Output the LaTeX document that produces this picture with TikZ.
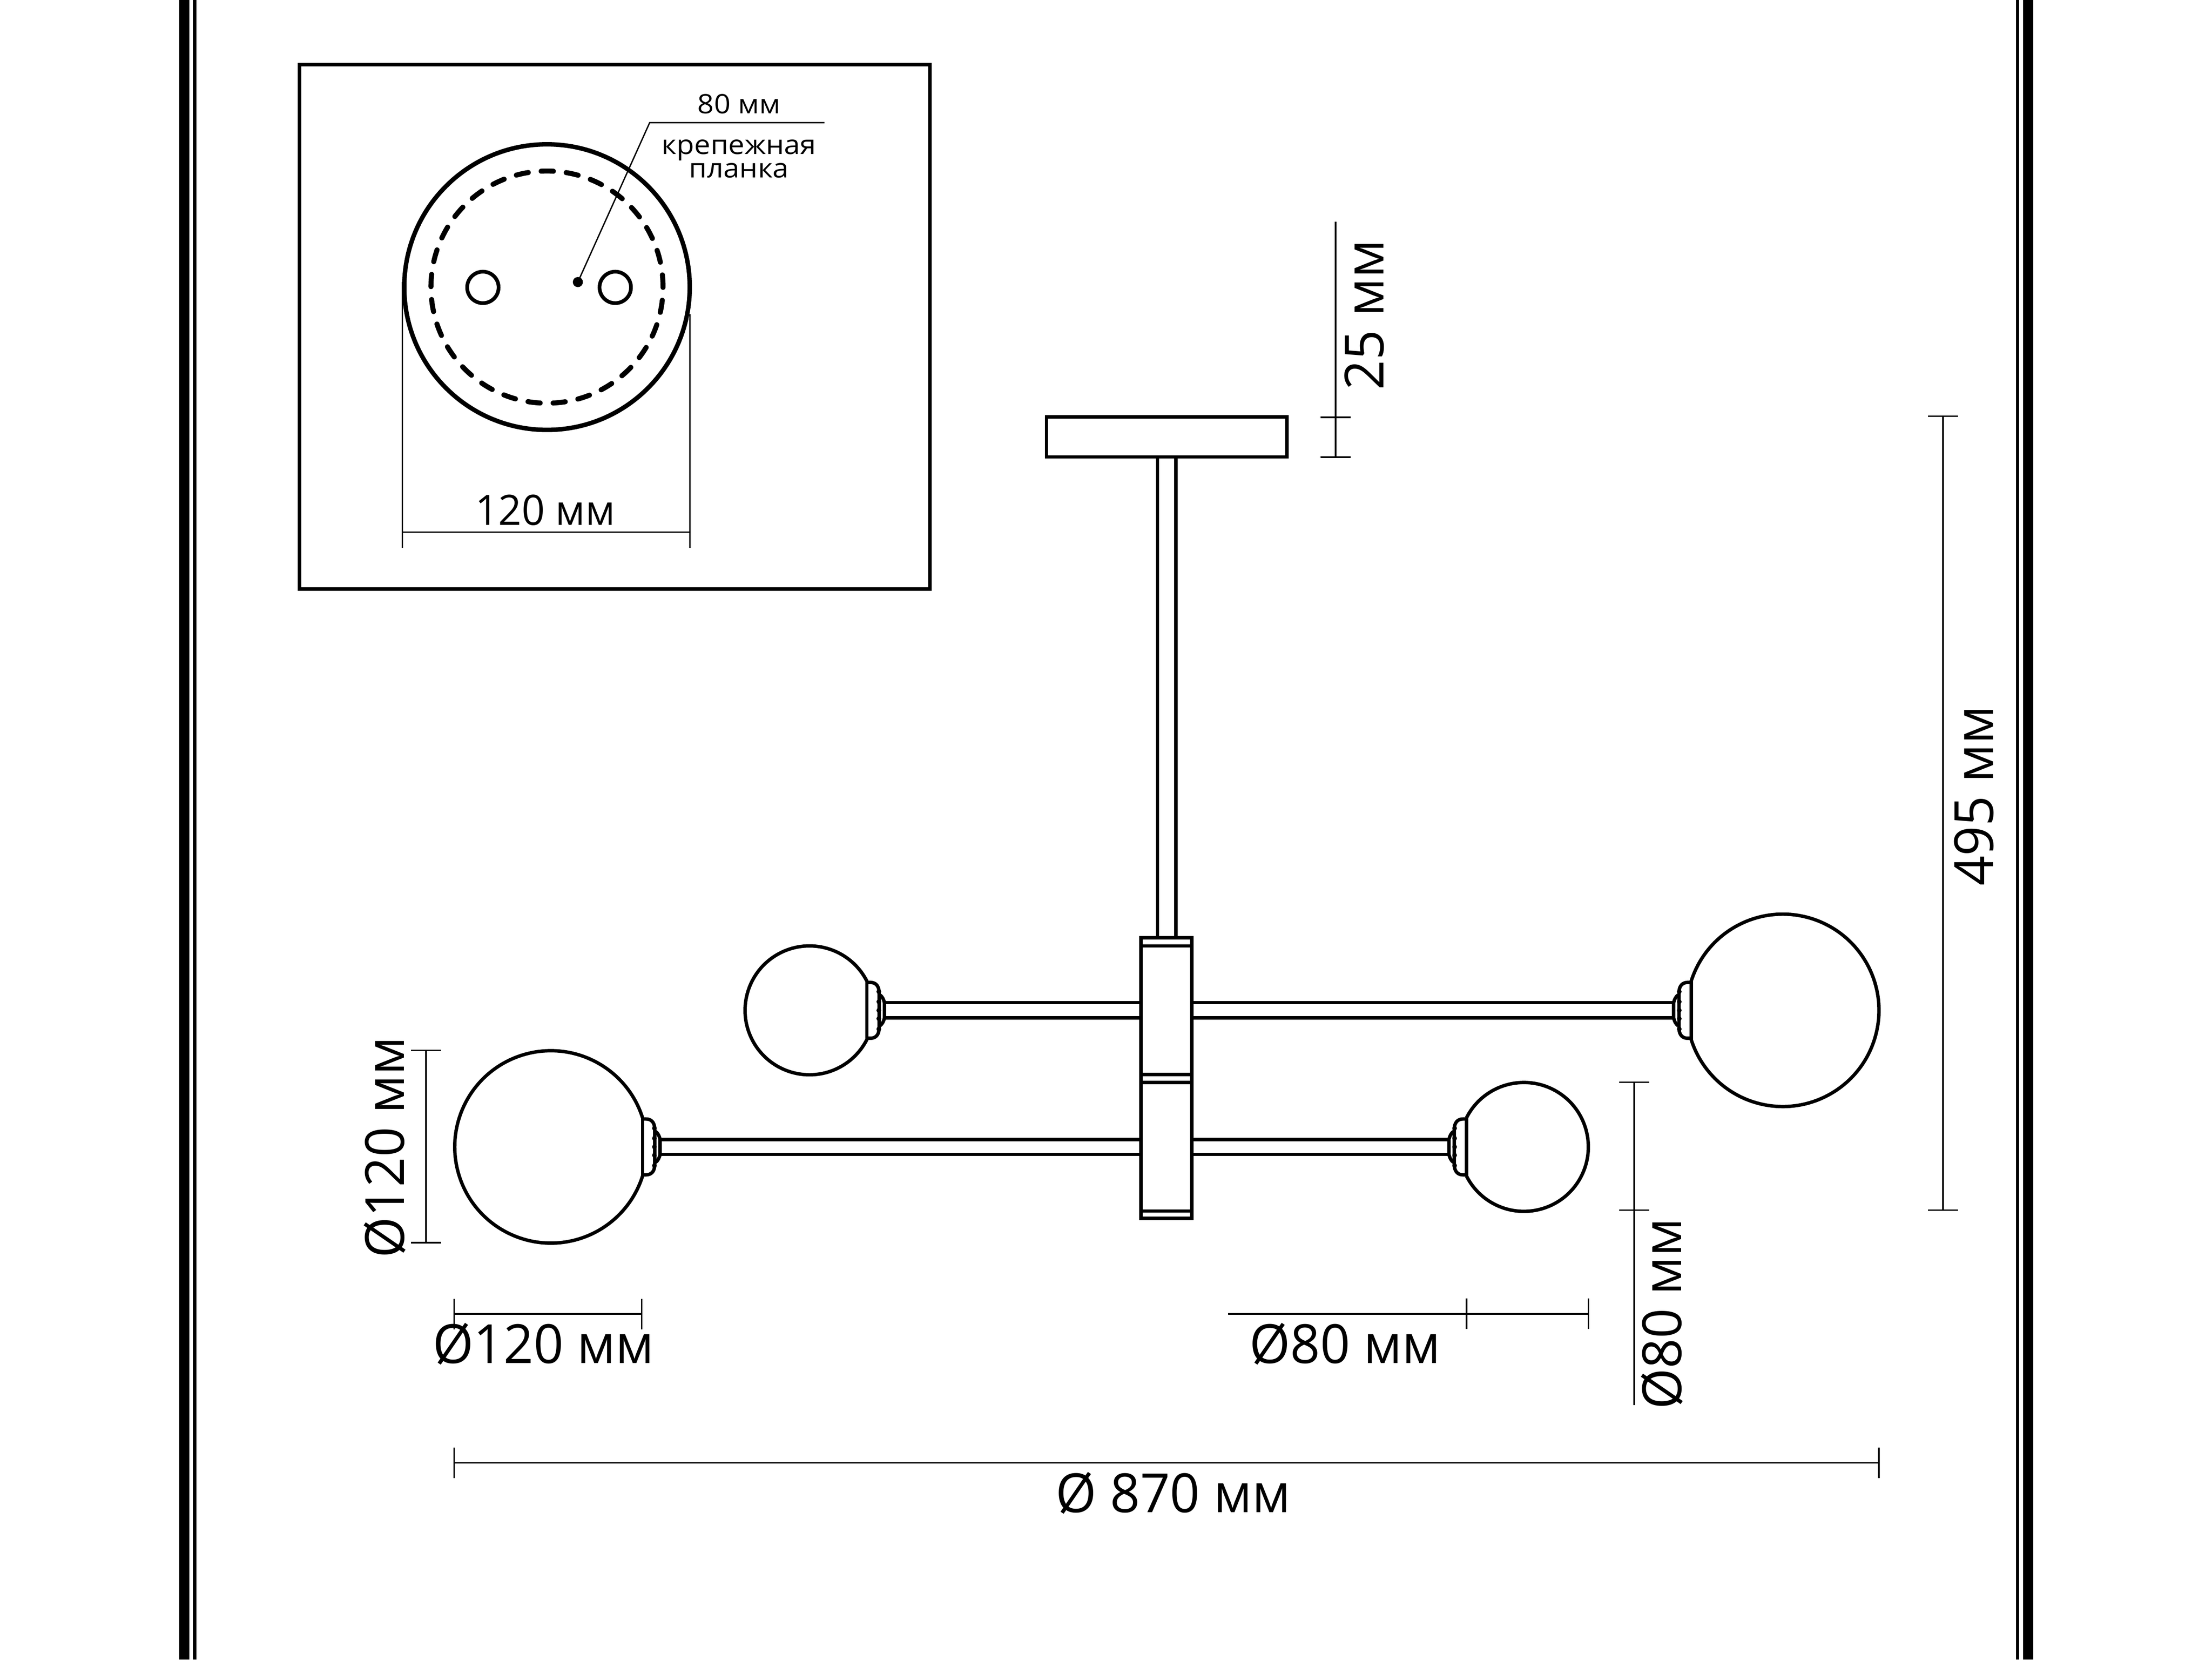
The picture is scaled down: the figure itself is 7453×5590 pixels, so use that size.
\documentclass[tikz,border=0pt]{standalone}
\usepackage{fontspec}
\setmainfont{Open Sans}[FakeStretch=0.97]
\newfontfamily\smallfont{Open Sans}[FakeStretch=1.08]
\usepackage{xcolor,tikz}

\tikzset{
  lampline/.style={line width=1.15pt},
  dimline/.style={line width=0.55pt},
  thinline/.style={line width=0.45pt},
  biglabel/.style={font=\fontsize{18.2}{20}\selectfont, inner sep=0pt, anchor=base},
  midlabel/.style={font=\fontsize{14.1}{16}\selectfont, inner sep=0pt, anchor=base},
  smalllabel/.style={font=\smallfont\fontsize{9}{10}\selectfont, inner sep=0pt, anchor=base},
}

\newcommand{\vtick}[1]{\draw[dimline] ([yshift=5.1pt]#1) -- ([yshift=-5.1pt]#1);}
\newcommand{\htick}[1]{\draw[dimline] ([xshift=-5.1pt]#1) -- ([xshift=5.1pt]#1);}

% shade and collar, x=0 is the flat side of the shade
\newcommand{\lampglobe}[4]{
  \begin{scope}[shift={(#1,#2)}, xscale=#3]
    \pgfmathsetmacro{\globeangle}{asin(98/#4)}
    \draw[lampline] (0,-98) arc[start angle=\globeangle, end angle=360-\globeangle, radius=#4*0.1pt];
    \draw[lampline] (0,-99) -- (0,99);
    \draw[lampline] (0,-94) -- (12,-94) .. controls (28,-94) and (40,-84) .. (41,-62) -- (41,62) .. controls (40,84) and (28,94) .. (12,94) -- (0,94);
    \draw[lampline] (44,-52) .. controls (52,-46) and (57,-36) .. (59,-25) -- (59,25) .. controls (57,36) and (52,46) .. (44,52);
    \fill (40,-63) circle (0.8pt);
    \fill (40,-29) circle (0.8pt);
    \fill (40,0) circle (0.8pt);
    \fill (40,28) circle (0.8pt);
    \fill (40,63) circle (0.8pt);
  \end{scope}
}

\begin{document}
\begin{tikzpicture}[x=0.1pt, y=-0.1pt]
  \useasboundingbox (0,0) rectangle (7453,5590);

  % side bands
  \fill (603,0) rectangle (638,5590);
  \fill (650,0) rectangle (662,5590);
  \fill (6792,0) rectangle (6803,5590);
  \fill (6816,0) rectangle (6851,5590);

  % mounting plate view
  \draw[line width=1.2pt] (1009,217) rectangle (3133,1984);
  \draw[line width=1.5pt] (1843,967) circle (48.1pt);
  \draw[line width=1.7pt, line cap=round, dash pattern=on 4.1pt off 4.37pt] (1843,967) circle (39.1pt);
  \draw[line width=1.25pt] (1627,968) circle (5.3pt);
  \draw[line width=1.25pt] (2073,968) circle (5.3pt);
  \fill (1947,950) circle (1.7pt);

  \coordinate (leaderdot) at (1947,950);
  \coordinate (leaderbend) at (2189,413);
  \coordinate (leaderend) at (2778,413);
  \draw[thinline] (leaderdot) -- (leaderbend) -- (leaderend);
  \node[smalllabel] (holetext) at (2490,383) {80 мм};
  \node[smalllabel] (bartext) at (2490,520) {крепежная};
  \node[smalllabel] (bartexttwo) at (2490,598) {планка};

  \coordinate (plateleft) at (1355,1792);
  \coordinate (plateright) at (2324,1792);
  \draw[thinline] (plateleft) -- (plateright);
  \draw[thinline] (1355,950) -- (1355,1845);
  \draw[thinline] (2324,1059) -- (2324,1845);
  \node[midlabel] (platetext) at (1837,1768) {120 мм};

  % ceiling plate and stem
  \draw[lampline] (3526,1404) rectangle (4336,1539);
  \draw[lampline] (3900,1539) -- (3900,3159);
  \draw[lampline] (3962,1539) -- (3962,3159);

  % hub
  \draw[lampline] (3844,3159) rectangle (4016,4104);
  \draw[lampline] (3844,3186) -- (4016,3186);
  \draw[lampline] (3844,3619) -- (4016,3619);
  \draw[lampline] (3844,3646) -- (4016,3646);
  \draw[lampline] (3844,4079) -- (4016,4079);

  % arms
  \draw[lampline] (2980,3377) -- (3844,3377);
  \draw[lampline] (2980,3428) -- (3844,3428);
  \draw[lampline] (4016,3377) -- (5639,3377);
  \draw[lampline] (4016,3428) -- (5639,3428);
  \draw[lampline] (2224,3838) -- (3844,3838);
  \draw[lampline] (2224,3888) -- (3844,3888);
  \draw[lampline] (4016,3838) -- (4882,3838);
  \draw[lampline] (4016,3888) -- (4882,3888);

  \lampglobe{2921}{3403}{1}{217}
  \lampglobe{5698}{3403}{-1}{324}
  \lampglobe{2165}{3863}{1}{324}
  \lampglobe{4941}{3863}{-1}{217}

  % dimensions
  \coordinate (thickup) at (4500,747);
  \coordinate (thicktop) at (4500,1406);
  \coordinate (thickbot) at (4500,1540);
  \draw[dimline] (thickup) -- (thickbot);
  \htick{thicktop}
  \htick{thickbot}
  \node[biglabel, rotate=90] (thicktext) at (4662,1060) {25 мм};

  \coordinate (hightop) at (6547,1402);
  \coordinate (highbot) at (6547,4076);
  \draw[dimline] (hightop) -- (highbot);
  \htick{hightop}
  \htick{highbot}
  \node[biglabel, rotate=90] (hightext) at (6716,2680) {495 мм};

  \coordinate (balltop) at (1435,3538);
  \coordinate (ballbot) at (1435,4185);
  \draw[dimline] (balltop) -- (ballbot);
  \htick{balltop}
  \htick{ballbot}
  \node[biglabel, rotate=90] (balltext) at (1361,3864) {Ø120 мм};

  \coordinate (ballleft) at (1530,4426);
  \coordinate (ballright) at (2162,4426);
  \draw[dimline] (ballleft) -- (ballright);
  \vtick{ballleft}
  \vtick{ballright}
  \node[biglabel] (balltexttwo) at (1831,4592) {Ø120 мм};

  \coordinate (smallfree) at (4138,4425);
  \coordinate (smallleft) at (4941,4425);
  \coordinate (smallright) at (5352,4425);
  \draw[dimline] (smallfree) -- (smallright);
  \vtick{smallleft}
  \vtick{smallright}
  \node[biglabel] (smalltext) at (4532,4592) {Ø80 мм};

  \coordinate (smalltop) at (5506,3645);
  \coordinate (smallbot) at (5506,4076);
  \coordinate (smallfreetwo) at (5506,4733);
  \draw[dimline] (smalltop) -- (smallfreetwo);
  \htick{smalltop}
  \htick{smallbot}
  \node[biglabel, rotate=90] (smalltexttwo) at (5665,4425) {Ø80 мм};

  \coordinate (widthleft) at (1530,4927);
  \coordinate (widthright) at (6330,4927);
  \draw[dimline] (widthleft) -- (widthright);
  \vtick{widthleft}
  \vtick{widthright}
  \node[biglabel] (widthtext) at (3953,5094) {Ø 870 мм};
\end{tikzpicture}
\end{document}
